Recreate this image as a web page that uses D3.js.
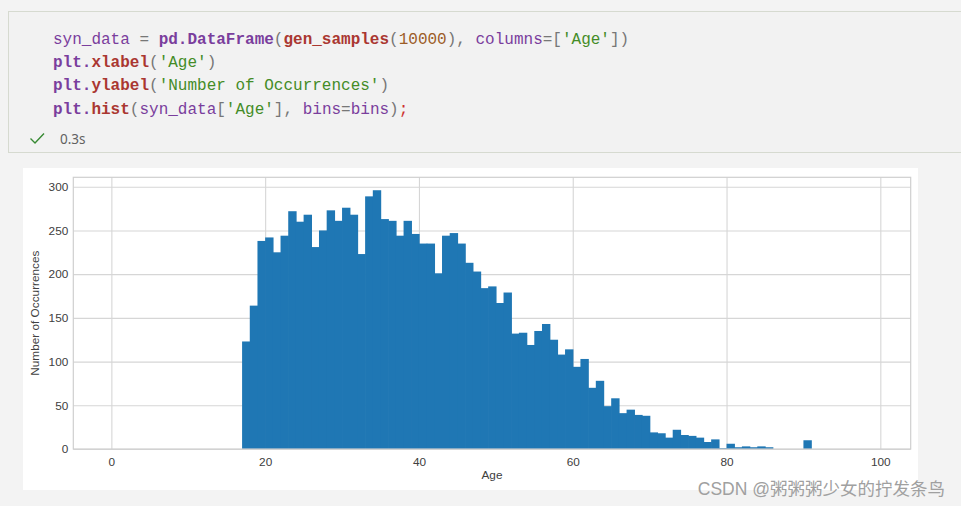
<!DOCTYPE html>
<html><head><meta charset="utf-8">
<script src="https://cdn.jsdelivr.net/npm/d3@7"></script>
<style>
html,body{margin:0;padding:0;background:#f3f3f3;}
svg{display:block;}
text{white-space:pre;}
</style></head>
<body>
<svg id="c" width="961" height="506"></svg>
<script>
// ---- data ----
const binEdges = d3.range(0, 100);            // bins = 0..99 step 1
const ages = [17,18,19,20,21,22,23,24,25,26,27,28,29,30,31,32,33,34,35,36,37,38,39,40,41,42,43,44,45,46,47,48,49,50,51,52,53,54,55,56,57,58,59,60,61,62,63,64,65,66,67,68,69,70,71,72,73,74,75,76,77,78,79,80,81,82,83,84,85,86,87,88,89,90];
const counts = [123,164,238,242,225,244,272,260,268,231,250,273,261,276,268,223,289,296,263,261,244,261,246,235,235,201,244,247,235,213,203,184,186,167,179,132,133,119,135,143,125,108,114,94,103,70,78,49,58,41,45,39,38,19,18,13,22,16,15,13,8,11,1,6,2,3,2,3,2,0,0,0,0,10];
const xTicks = [0,20,40,60,80,100];
const yTicks = [0,50,100,150,200,250,300];
const xLabel = "Age";
const yLabel = "Number of Occurrences";
const codeLines = [
  [["syn_data","#7a3e9d",0],[" = ","#777777",0],["pd.DataFrame","#7a3e9d",1],["(","#777777",0],["gen_samples","#aa3731",1],["(","#777777",0],["10000","#9c5d27",0],["), ","#777777",0],["columns","#7a3e9d",0],["=[","#777777",0],["'Age'","#448c27",0],["])","#777777",0]],
  [["plt.","#7a3e9d",1],["xlabel","#aa3731",1],["(","#777777",0],["'Age'","#448c27",0],[")","#777777",0]],
  [["plt.","#7a3e9d",1],["ylabel","#aa3731",1],["(","#777777",0],["'Number of Occurrences'","#448c27",0],[")","#777777",0]],
  [["plt.","#7a3e9d",1],["hist","#aa3731",1],["(","#777777",0],["syn_data","#7a3e9d",0],["[","#777777",0],["'Age'","#448c27",0],["], ","#777777",0],["bins","#7a3e9d",0],["=","#777777",0],["bins","#7a3e9d",0],[")","#777777",0],[";","#cd3131",0]]
];
const execTime = "0.3s";
const watermark = "CSDN @粥粥粥少女的拧发条鸟";

const svg = d3.select("#c");

// ---- code cell ----
svg.append("rect").attr("x",8.5).attr("y",11.5).attr("width",970).attr("height",141)
  .attr("fill","#f2f2f2").attr("stroke","#d6dad0").attr("stroke-width",1);
codeLines.forEach((line,i)=>{
  const t = svg.append("text").attr("x",53).attr("y",43.5+i*23.4)
    .attr("font-family","'Liberation Mono','DejaVu Sans Mono',monospace").attr("font-size",16);
  line.forEach(([s,c,b])=>{
    t.append("tspan").text(s).attr("fill",c).attr("font-weight",b?"bold":"normal");
  });
});
svg.append("path").attr("d","M30.5,138.5 L35,143 L44,133.5").attr("fill","none")
  .attr("stroke","#388a34").attr("stroke-width",1.4);
svg.append("text").attr("x",60).attr("y",143.5).text(execTime)
  .attr("font-family","'Noto Sans','Open Sans',sans-serif").attr("font-size",13.5).attr("fill","#616161");

// ---- output area ----
svg.append("rect").attr("x",23).attr("y",168).attr("width",895).attr("height",322).attr("fill","#ffffff");

const L=73.3, R=910.7, T=177.3, B=449;
const ymax = d3.max(counts)*1.05;
const span = d3.max(binEdges)-d3.min(binEdges);
const x = d3.scaleLinear().domain([d3.min(binEdges) - 0.05*span, d3.max(binEdges) + 0.05*span]).range([L,R]);
const y = d3.scaleLinear().domain([0, ymax]).range([B,T]);

const fontF = "'Liberation Sans',Arial,sans-serif";
const gridCol = "#d6d6d6";

// grid
const gx = svg.append("g").attr("transform",`translate(0,${B})`)
  .call(d3.axisBottom(x).tickValues(xTicks).tickSize(-(B-T)).tickPadding(6).tickFormat(d3.format("d")));
const gy = svg.append("g").attr("transform",`translate(${L},0)`)
  .call(d3.axisLeft(y).tickValues(yTicks).tickSize(-(R-L)).tickPadding(5).tickFormat(d3.format("d")));
[gx,gy].forEach(g=>{
  g.select(".domain").remove();
  g.selectAll(".tick line").attr("stroke",gridCol).attr("stroke-width",1.1);
  g.selectAll(".tick text").attr("fill","#404040").attr("font-family",fontF).attr("font-size",11.8);
});
gx.selectAll(".tick text").attr("dy","0.95em");

// bars (each slightly overlaps the next one to avoid anti-aliasing seams)
svg.append("g").selectAll("rect").data(ages.map((a,i)=>({a, c:counts[i]})).filter(d=>d.c>0))
  .join("rect")
  .attr("x",d=>x(d.a)).attr("width",d=>x(d.a+1)-x(d.a)+0.7)
  .attr("y",d=>y(d.c)).attr("height",d=>B-y(d.c))
  .attr("fill","#1f77b4");

// frame
svg.append("rect").attr("x",L).attr("y",T).attr("width",R-L).attr("height",B-T)
  .attr("fill","none").attr("stroke","#cfcfcf").attr("stroke-width",1.2);

// labels
svg.append("text").attr("x",(L+R)/2).attr("y",479).attr("text-anchor","middle")
  .attr("font-family",fontF).attr("font-size",11.8).attr("fill","#404040").text(xLabel);
svg.append("text").attr("transform",`translate(39,${(T+B)/2}) rotate(-90)`).attr("text-anchor","middle")
  .attr("font-family",fontF).attr("font-size",11.8).attr("fill","#404040").text(yLabel);

// watermark
svg.append("text").attr("x",945).attr("y",495).attr("text-anchor","end")
  .attr("font-family","'Liberation Sans','Noto Sans CJK SC',sans-serif").attr("font-size",17.5)
  .attr("fill","#a0a0a0").text(watermark);
</script>
</body></html>
